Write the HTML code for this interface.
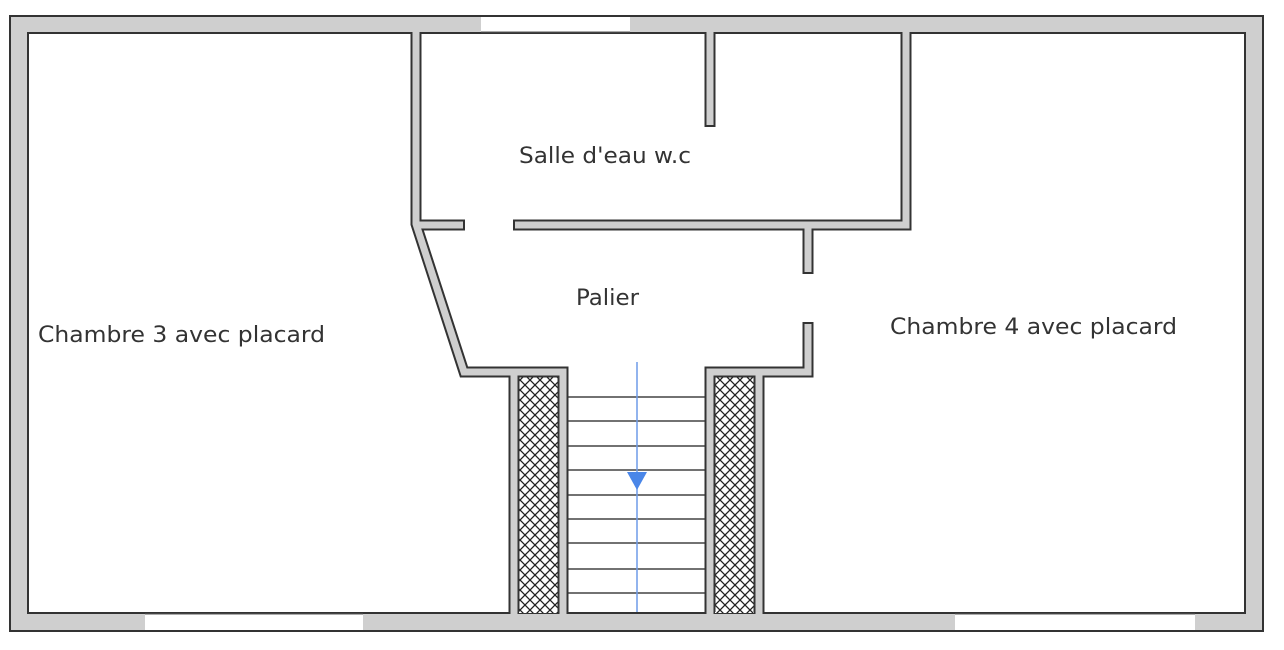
<!DOCTYPE html>
<html><head><meta charset="utf-8"><style>html,body{margin:0;padding:0;background:#fff;}svg{display:block}</style></head>
<body>
<svg width="1284" height="650" viewBox="0 0 1284 650" xmlns="http://www.w3.org/2000/svg">
<defs>
<pattern id="h" width="10" height="10" patternUnits="userSpaceOnUse">
<rect width="10" height="10" fill="#fff"/>
<path d="M0,0L10,10M10,0L0,10" stroke="#222" stroke-width="1.3"/>
</pattern>
</defs>
<rect x="10" y="16" width="1253" height="615" fill="#cfcfcf" stroke="#333" stroke-width="2"/>
<rect x="28" y="33" width="1217" height="580" fill="#fff" stroke="#333" stroke-width="2"/>
<rect x="481" y="17" width="149" height="15" fill="#fff"/>
<line x1="481" y1="32" x2="630" y2="32" stroke="#555" stroke-width="1"/>
<rect x="145" y="614" width="218" height="16" fill="#fff"/>
<line x1="145" y1="614" x2="363" y2="614" stroke="#555" stroke-width="1"/>
<rect x="955" y="614" width="240" height="16" fill="#fff"/>
<line x1="955" y1="614" x2="1195" y2="614" stroke="#555" stroke-width="1"/>
<rect x="519" y="377" width="39" height="236" fill="url(#h)"/>
<rect x="715" y="377" width="39" height="236" fill="url(#h)"/>
<g stroke="#444" stroke-width="1.5">
<line x1="568" y1="397" x2="706" y2="397"/><line x1="568" y1="421" x2="706" y2="421"/>
<line x1="568" y1="446" x2="706" y2="446"/><line x1="568" y1="470" x2="706" y2="470"/>
<line x1="568" y1="495" x2="706" y2="495"/><line x1="568" y1="519" x2="706" y2="519"/>
<line x1="568" y1="543" x2="706" y2="543"/><line x1="568" y1="569" x2="706" y2="569"/>
<line x1="568" y1="593" x2="706" y2="593"/>
</g>
<g fill="none" stroke-linejoin="miter" stroke-linecap="butt">
<g stroke="#333" stroke-width="11">
<path d="M416,33 L416,224 L464,372 L563,372 L563,612"/>
<path d="M514,372 L514,612"/>
<path d="M710,612 L710,372 L808,372 L808,322"/>
<path d="M759,372 L759,612"/>
<path d="M808,225 L808,274"/>
<path d="M416,225 L465,225"/>
<path d="M513,225 L906,225 L906,33"/>
<path d="M710,33 L710,127"/>
</g>
<g stroke="#cfcfcf" stroke-width="7">
<path d="M416,31 L416,224 L464,372 L563,372 L563,615"/>
<path d="M514,372 L514,615"/>
<path d="M710,615 L710,372 L808,372 L808,324"/>
<path d="M759,372 L759,615"/>
<path d="M808,225 L808,272"/>
<path d="M416,225 L463,225"/>
<path d="M515,225 L906,225 L906,31"/>
<path d="M710,31 L710,125"/>
</g>
</g>
<line x1="637" y1="362" x2="637" y2="612" stroke="#6f9be8" stroke-width="1.5"/>
<polygon points="627,472 647,472 637,490" fill="#4a86e8"/>
<g font-family="DejaVu Sans, Liberation Sans, sans-serif" font-size="22" fill="#333">
<text x="38" y="342" textLength="287" lengthAdjust="spacingAndGlyphs">Chambre 3 avec placard</text>
<text x="890" y="334" textLength="287" lengthAdjust="spacingAndGlyphs">Chambre 4 avec placard</text>
<text x="519" y="163" textLength="172" lengthAdjust="spacingAndGlyphs">Salle d'eau w.c</text>
<text x="576" y="305" textLength="63" lengthAdjust="spacingAndGlyphs">Palier</text>
</g>
</svg>
</body></html>
